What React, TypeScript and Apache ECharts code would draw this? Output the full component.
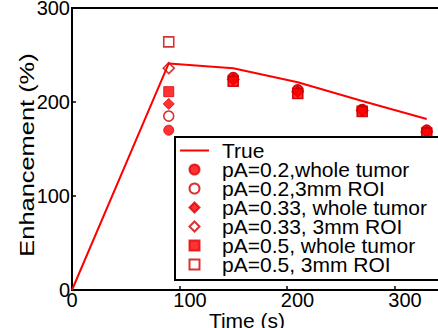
import React, { useEffect, useRef } from "react";
import * as echarts from "echarts";

const lineTimes = [0, 90, 150, 210, 270, 330];
const trueValues = [0, 241, 236, 221, 201, 182];

const markerTimes = [90, 150, 210, 270, 330];
const pA02Whole = [170, 226, 213, 192, 170];
const pA02ROI = [185, 226, 213, 192, 170];
const pA033Whole = [198, 224, 211, 191, 168];
const pA033ROI = [236, 224, 211, 191, 168];
const pA05Whole = [211, 222, 209, 190, 167];
const pA05ROI = [264, 222, 209, 190, 167];

const xTicks = [0, 100, 200, 300];
const yTicks = [0, 100, 200, 300];

const FONT = "Liberation Sans, Arial, Helvetica, sans-serif";
const RED = "#ff0000";
const DARK_RED = "#cc0000";

const ICON_LINE = "path://M0,0H29V2H0Z";
const ICON_DIAMOND = "path://M5.5,0L11,5.5L5.5,11L0,5.5Z";
const ICON_RECT = "path://M0,0H10V10H0Z";

function pts(vals: number[]) {
  return markerTimes.map((t, i) => [t, vals[i]]);
}

export default function App() {
  const ref = useRef<HTMLDivElement>(null);
  useEffect(() => {
    if (!ref.current) return;
    const chart = echarts.init(ref.current, null, { renderer: "svg" });
    const filled = (name: string, symbol: string, size: number, vals: number[]) => ({
      name,
      type: "scatter",
      symbol,
      symbolSize: size,
      data: pts(vals),
      itemStyle: { color: RED, borderColor: "#e00000", borderWidth: 1 },
    });
    const open = (name: string, symbol: string, size: number, vals: number[]) => ({
      name,
      type: "scatter",
      symbol,
      symbolSize: size,
      data: pts(vals),
      itemStyle: { color: "rgba(255,255,255,0)", borderColor: DARK_RED, borderWidth: 1.6 },
    });
    chart.setOption({
      animation: false,
      grid: {
        left: 72,
        top: 8,
        bottom: 38,
        right: -40,
        outerBoundsMode: "none",
        containLabel: false,
        show: true,
        borderColor: "#000",
        borderWidth: 2,
        backgroundColor: "rgba(0,0,0,0)",
      },
      xAxis: {
        type: "value",
        min: 0,
        max: 377.7,
        interval: 100,
        axisLine: { lineStyle: { color: "#000", width: 2 } },
        axisTick: { inside: true, length: 4, lineStyle: { color: "#000", width: 1.5 } },
        splitLine: { show: false },
        axisLabel: {
          margin: 0,
          color: "#000",
          fontSize: 20,
          fontFamily: FONT,
          hideOverlap: false,
          formatter: (v: number) => {
            if (!xTicks.includes(v)) return "";
            return v === 0 ? "0" : `{s|${v}}`;
          },
          rich: { s: { padding: [0, 0, 0, 21], fontSize: 20, fontFamily: FONT, color: "#000" } },
        },
      },
      yAxis: {
        type: "value",
        min: 0,
        max: 300,
        interval: 100,
        axisLine: { lineStyle: { color: "#000", width: 2 } },
        axisTick: { inside: true, length: 4, lineStyle: { color: "#000", width: 1.5 } },
        splitLine: { show: false },
        axisLabel: {
          margin: 2,
          color: "#000",
          fontSize: 20,
          fontFamily: FONT,
          padding: [4, 0, 0, 0],
          formatter: (v: number) => (yTicks.includes(v) ? String(v) : ""),
        },
      },
      legend: {
        orient: "vertical",
        left: 175,
        top: 137,
        padding: [3, 30, 5, 5],
        itemGap: -2,
        itemWidth: 29,
        itemHeight: 10,
        symbolKeepAspect: true,
        borderColor: "#000",
        borderWidth: 2,
        backgroundColor: "#fff",
        selectedMode: false,
        textStyle: { fontSize: 21, fontFamily: FONT, color: "#000", padding: [0, 0, 0, 8] },
        data: [
          { name: "True", icon: ICON_LINE, itemStyle: { color: RED, borderWidth: 0 } },
          { name: "pA=0.2,whole tumor", icon: "circle" },
          { name: "pA=0.2,3mm ROI", icon: "circle" },
          { name: "pA=0.33, whole tumor", icon: ICON_DIAMOND },
          { name: "pA=0.33, 3mm ROI", icon: ICON_DIAMOND },
          { name: "pA=0.5, whole tumor", icon: ICON_RECT },
          { name: "pA=0.5, 3mm ROI", icon: ICON_RECT },
        ],
      },
      graphic: [
        {
          type: "text",
          x: 27.5,
          y: 155,
          rotation: Math.PI / 2,
          scaleX: 1.27,
          style: {
            text: "Enhancement (%)",
            fontSize: 20,
            fontFamily: FONT,
            fill: "#000",
            align: "center",
            verticalAlign: "middle",
          },
        },
        {
          type: "text",
          x: 247,
          y: 320,
          style: {
            text: "Time (s)",
            fontSize: 21,
            fontFamily: FONT,
            fill: "#000",
            align: "center",
            verticalAlign: "middle",
          },
        },
      ],
      series: [
        {
          name: "True",
          type: "line",
          symbol: "none",
          showSymbol: false,
          data: lineTimes.map((t, i) => [t, trueValues[i]]),
          lineStyle: { color: RED, width: 2 },
          itemStyle: { color: RED },
        },
        filled("pA=0.2,whole tumor", "circle", 10, pA02Whole),
        open("pA=0.2,3mm ROI", "circle", 10, pA02ROI),
        filled("pA=0.33, whole tumor", "diamond", 11, pA033Whole),
        open("pA=0.33, 3mm ROI", "diamond", 11, pA033ROI),
        filled("pA=0.5, whole tumor", "rect", 10, pA05Whole),
        open("pA=0.5, 3mm ROI", "rect", 10, pA05ROI),
      ],
    });
    return () => chart.dispose();
  }, []);
  return (
    <div
      ref={ref}
      style={{ position: "fixed", left: 0, top: 0, width: 438, height: 328, background: "#fff" }}
    />
  );
}
